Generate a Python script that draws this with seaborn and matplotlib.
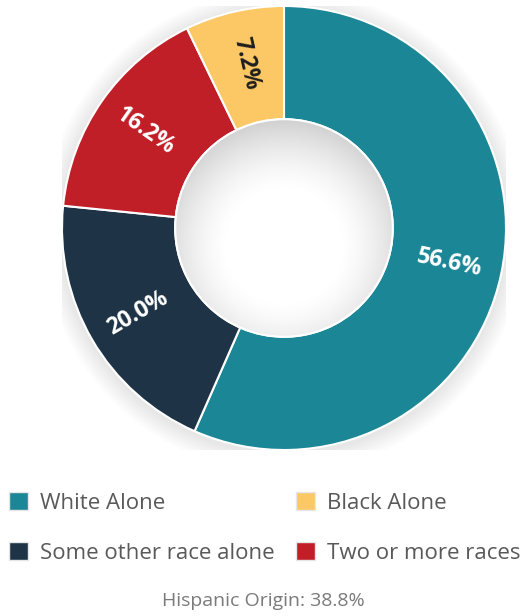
import numpy as np
import matplotlib
matplotlib.use("Agg")
import matplotlib.pyplot as plt
import matplotlib.patches as mpatches
import seaborn as sns

categories = ["White Alone", "Some other race alone", "Two or more races", "Black Alone"]
values = [56.6, 20.0, 16.2, 7.2]
colors = ["#1b8796", "#1e3346", "#c01f27", "#fcc865"]
label_colors = ["white", "white", "white", "#1e1e1e"]
footer = "Hispanic Origin: 38.8%"

sns.set_theme(style="white")
plt.rcParams["font.family"] = ["Open Sans", "DejaVu Sans"]

fig = plt.figure(figsize=(5.27, 6.16), dpi=100)
ax = fig.add_axes([62/527, 1-450/616, 444/527, 444/616])

# soft shadow behind ring
for i in range(8):
    ax.add_patch(mpatches.Circle((0.0, -0.012), 1.0 + 0.011*(i+1), color="black", alpha=0.012, zorder=0, lw=0))

wedges, _ = ax.pie(values, colors=colors, startangle=90, counterclock=False,
                   wedgeprops=dict(width=0.51, edgecolor="white", linewidth=1.5))

# inner hole shading (gradient clipped to the hole)
rin = 0.49
g = np.linspace(-rin, rin, 300)
X, Y = np.meshgrid(g, g)
R = np.sqrt(X**2 + (Y + 0.08)**2) / rin
shade = 1.0 - 0.18 * np.clip((R - 0.5) / 0.65, 0, 1) ** 1.5
img = ax.imshow(shade, extent=[-rin, rin, -rin, rin], origin="lower", cmap="gray",
                vmin=0, vmax=1, zorder=3, interpolation="bilinear")
hole = mpatches.Circle((0, 0), rin, transform=ax.transData, fill=False, lw=0)
ax.add_patch(hole)
img.set_clip_path(hole)
ax.add_patch(mpatches.Circle((0, 0), rin, fill=False, edgecolor="white", lw=1.5, zorder=4))

total = sum(values)
start = 90.0
for v, lc in zip(values, label_colors):
    span = 360.0 * v / total
    mid = start - span / 2
    start -= span
    th = np.deg2rad(mid)
    r = 0.76
    rot = mid
    while rot < -90:
        rot += 180
    while rot > 90:
        rot -= 180
    ax.text(r*np.cos(th), r*np.sin(th), f"{v:.1f}%", rotation=rot, rotation_mode="anchor",
            ha="center", va="center", color=lc, fontsize=16.5, fontweight="bold", zorder=5)

ax.set_xlim(-1, 1)
ax.set_ylim(-1, 1)
ax.set_aspect("equal")
ax.axis("off")

handles = [mpatches.Patch(facecolor=c, edgecolor="#e6e6e6", label=l) for c, l in zip(colors, categories)]
# legend entry positions (pixel x of square, pixel y of row centre)
leg_pos = {0: (9, 503), 3: (296, 503), 1: (9, 553), 2: (296, 553)}
for i, (px, py) in leg_pos.items():
    fig.legend([handles[i]], [categories[i]], loc="center left",
               bbox_to_anchor=(px/527, 1-py/616), frameon=False, borderpad=0,
               borderaxespad=0, fontsize=16, labelcolor="#595959",
               handlelength=0.85, handleheight=0.85, handletextpad=0.55)

fig.text(263/527, 1-601/616, footer, ha="center", va="center", fontsize=14, color="#7a7a7a")

fig.savefig("out.png", dpi=100)
